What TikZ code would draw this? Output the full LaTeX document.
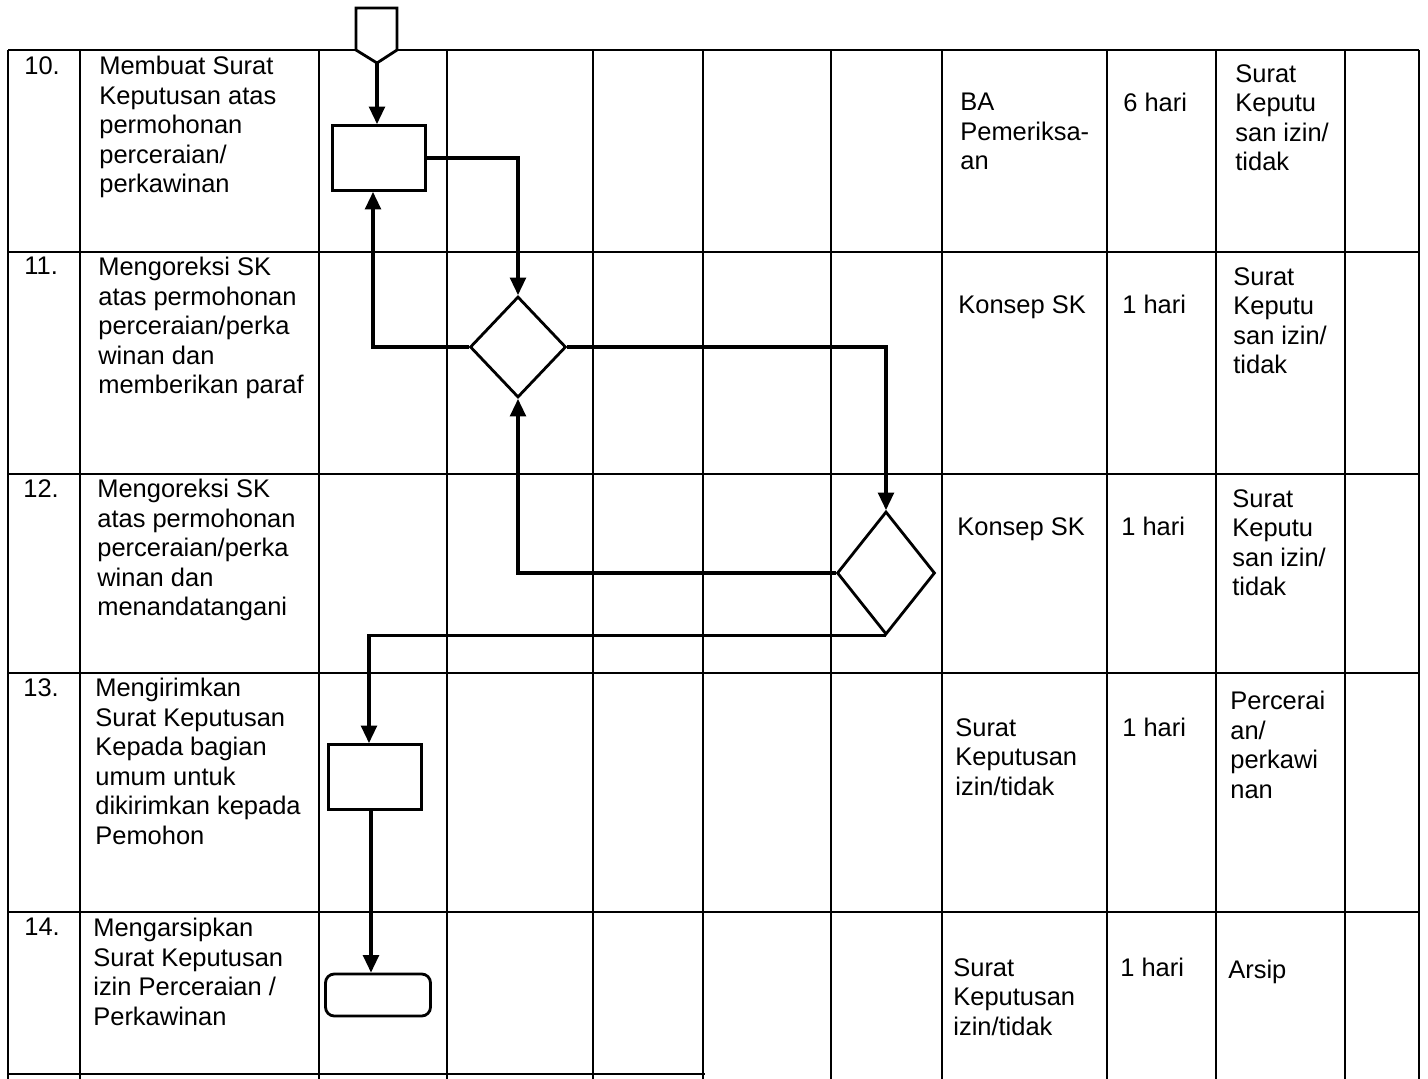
\documentclass[tikz,border=0pt]{standalone}
\usepackage{fontspec}
\setmainfont{Liberation Sans}
\usepackage{tikz}
\usetikzlibrary{arrows.meta, positioning, shapes.geometric}

\tikzset{
  gridline/.style={line width=1.1pt},
  flowarrow/.style={line width=1.8pt, -{Triangle[length=10pt, width=9pt]}},
  proc/.style={draw, line width=1.6pt, minimum width=1.86cm, minimum height=1.3cm, inner sep=0pt},
  decide/.style={draw, diamond, line width=1.6pt, inner sep=0pt},
  arsip/.style={draw, rounded corners=5pt, line width=1.6pt, minimum width=2.1cm, minimum height=0.84cm, inner sep=0pt},
  cell/.style={anchor=north west, align=left, inner sep=0pt, font=\fontsize{14.5}{16.8}\selectfont},
}

\begin{document}
\begin{tikzpicture}[x=0.02cm, y=-0.02cm]
  \useasboundingbox (0,0) rectangle (1428,1079);

  % table grid
  \foreach \y in {50,252,474,673,912}
    \draw[gridline] (8,\y) -- (1419,\y);
  \draw[gridline] (8,1074) -- (705,1074);
  \foreach \x in {8,80,319,447,593,703,831,942,1107,1216,1345,1419}
    \draw[gridline] (\x,50) -- (\x,1079);

  % off-page connector
  \draw[line width=1.6pt, fill=white] (356,8) -- (397,8) -- (397,50) -- (377,63) -- (356,50) -- cycle;
  \coordinate (src) at (377,63);

  % flow symbols
  \node[proc] (p10) at (379,158) {};
  \node[decide, minimum width=1.92cm, minimum height=2.02cm] (d11) at (518,347) {};
  \node[decide, minimum width=1.96cm, minimum height=2.46cm] (d12) at (886,573) {};
  \node[proc] (p13) at (375,777) {};
  \node[arsip] (p14) at (378,995) {};

  \draw[flowarrow] (src) -- (src |- p10.north);
  \draw[flowarrow] (p10.east) -| (d11.north);
  \draw[flowarrow] (d11.west) -| ([xshift=-0.12cm]p10.south);
  \draw[flowarrow] (d11.east) -| (d12.north);
  \draw[flowarrow] (d12.west) -| (d11.south);
  \draw[flowarrow] (d12.south) -| ([xshift=-0.12cm]p13.north);
  \draw[flowarrow] ([xshift=-0.08cm]p13.south) -- ([xshift=-0.08cm]p13.south |- p14.north);

  % row 10
  \node[cell] (no10) at (24,56) {10.};
  \node[cell] (act10) at (99,56) {Membuat Surat\\Keputusan atas\\permohonan\\perceraian/\\perkawinan};
  \node[cell] (in10) at (960,93) {BA\\Pemeriksa-\\an};
  \node[cell] (time10) at (1123,93) {6 hari};
  \node[cell] (out10) at (1235,64) {Surat\\Keputu\\san izin/\\tidak};

  % row 11
  \node[cell] (no11) at (24,257) {11.};
  \node[cell] (act11) at (98,257) {Mengoreksi SK\\atas permohonan\\perceraian/perka\\winan dan\\memberikan paraf};
  \node[cell] (in11) at (958,295) {Konsep SK};
  \node[cell] (time11) at (1122,295) {1 hari};
  \node[cell] (out11) at (1233,267) {Surat\\Keputu\\san izin/\\tidak};

  % row 12
  \node[cell] (no12) at (23,479) {12.};
  \node[cell] (act12) at (97,479) {Mengoreksi SK\\atas permohonan\\perceraian/perka\\winan dan\\menandatangani};
  \node[cell] (in12) at (957,517) {Konsep SK};
  \node[cell] (time12) at (1121,517) {1 hari};
  \node[cell] (out12) at (1232,489) {Surat\\Keputu\\san izin/\\tidak};

  % row 13
  \node[cell] (no13) at (23,678) {13.};
  \node[cell] (act13) at (95,678) {Mengirimkan\\Surat Keputusan\\Kepada bagian\\umum untuk\\dikirimkan kepada\\Pemohon};
  \node[cell] (in13) at (955,718) {Surat\\Keputusan\\izin/tidak};
  \node[cell] (time13) at (1122,718) {1 hari};
  \node[cell] (out13) at (1230,691) {Percerai\\an/\\perkawi\\nan};

  % row 14
  \node[cell] (no14) at (24,918) {14.};
  \node[cell] (act14) at (93,918) {Mengarsipkan\\Surat Keputusan\\izin Perceraian /\\Perkawinan};
  \node[cell] (in14) at (953,958) {Surat\\Keputusan\\izin/tidak};
  \node[cell] (time14) at (1120,958) {1 hari};
  \node[cell] (out14) at (1228,960) {Arsip};
\end{tikzpicture}
\end{document}
